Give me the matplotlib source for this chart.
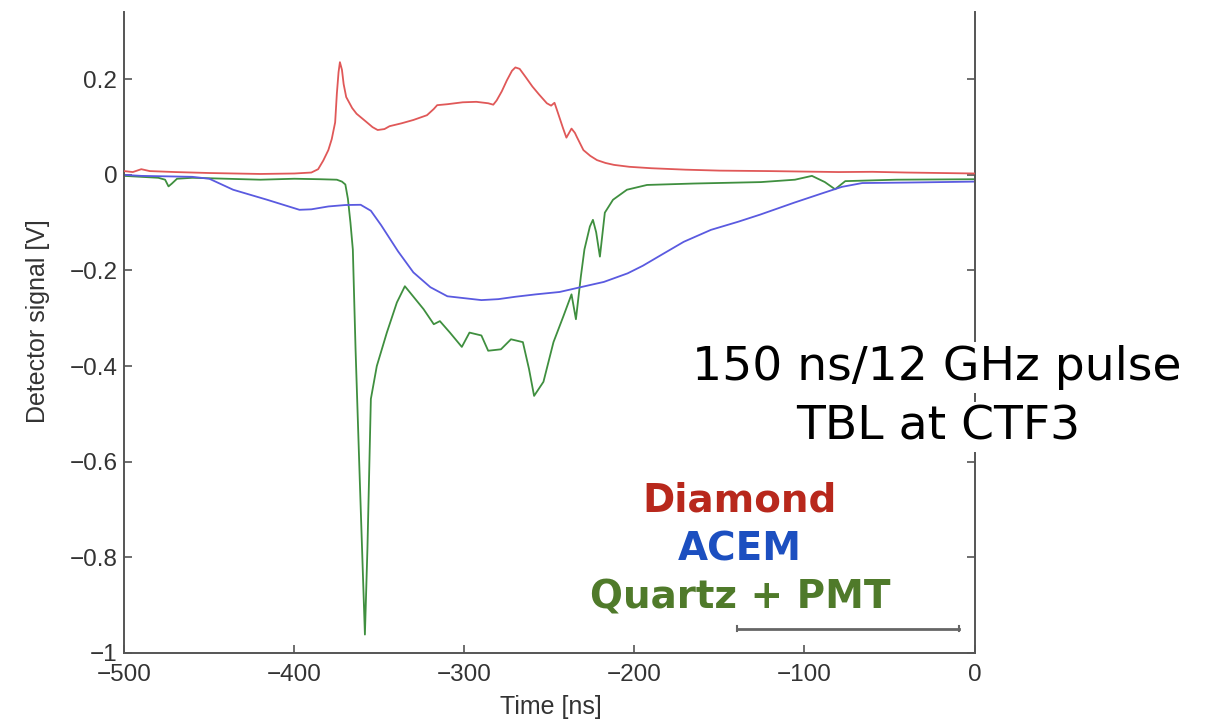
import matplotlib
matplotlib.use("Agg")
import matplotlib.pyplot as plt
from matplotlib.lines import Line2D
import numpy as np

# ---------------- data ----------------
t_diamond = [-500, -495, -490, -485, -470, -450, -420, -400, -390, -386, -383, -380, -378,
             -376, -375, -374, -373.2, -372, -371, -369.5, -366, -363.4, -358, -354, -351,
             -347, -344, -337, -330, -322, -318, -316, -310, -301, -293, -286, -283, -281,
             -278, -275, -272, -270, -267.5, -264, -260, -256, -251.5, -249, -247, -245,
             -242, -240, -237, -235, -233.8, -230, -226, -222, -217, -212, -203, -190,
             -170, -150, -120, -100, -80, -60, -40, -20, 0]
v_diamond = [0.008, 0.006, 0.012, 0.008, 0.006, 0.004, 0.002, 0.003, 0.005, 0.012, 0.030,
             0.052, 0.075, 0.11, 0.17, 0.215, 0.236, 0.22, 0.19, 0.163, 0.14, 0.128, 0.112,
             0.10, 0.094, 0.096, 0.102, 0.108, 0.115, 0.125, 0.138, 0.146, 0.148, 0.152,
             0.153, 0.150, 0.147, 0.156, 0.175, 0.198, 0.218, 0.225, 0.222, 0.205, 0.185,
             0.168, 0.150, 0.145, 0.151, 0.130, 0.098, 0.078, 0.097, 0.088, 0.079, 0.052,
             0.040, 0.031, 0.025, 0.021, 0.017, 0.014, 0.011, 0.009, 0.008, 0.007, 0.006,
             0.0065, 0.005, 0.004, 0.003]

t_acem = [-500, -490, -475, -460, -450, -436, -416, -397, -390, -380, -370, -361, -355,
          -349, -339, -330, -320, -310, -300, -290, -280, -270, -258, -244, -228, -218,
          -204, -195, -184, -171, -155, -139, -126, -106, -90, -78, -66, -40, -20, 0]
v_acem = [0.0, -0.002, -0.003, -0.004, -0.008, -0.031, -0.052, -0.073, -0.072, -0.066,
          -0.063, -0.0625, -0.075, -0.105, -0.160, -0.204, -0.235, -0.254, -0.258, -0.262,
          -0.260, -0.255, -0.250, -0.245, -0.232, -0.224, -0.206, -0.19, -0.167, -0.14,
          -0.115, -0.098, -0.083, -0.058, -0.039, -0.025, -0.017, -0.016, -0.015, -0.014]

t_quartz = [-500, -490, -480, -476, -474, -472, -469, -460, -440, -420, -400, -385, -375,
            -372, -370, -368.5, -367, -365.6, -364, -361.5, -358.5, -357, -355, -351.5,
            -345.6, -339.7, -335, -332, -324, -318, -314.4, -308.5, -301.5, -297, -290,
            -286, -278.5, -272.6, -265.6, -262, -259, -253.5, -247.6, -241.8, -237, -234.4,
            -231.5, -229.4, -226.2, -224.4, -222.5, -220.3, -217.4, -212.6, -204.4, -192.6,
            -165, -125.6, -105.6, -95.6, -88, -82, -76, -46, 0]
v_quartz = [-0.002, -0.004, -0.006, -0.01, -0.024, -0.018, -0.008, -0.006, -0.008, -0.01,
            -0.008, -0.009, -0.010, -0.014, -0.02, -0.05, -0.10, -0.156, -0.365, -0.64,
            -0.962, -0.78, -0.469, -0.40, -0.33, -0.267, -0.233, -0.246, -0.281, -0.3125,
            -0.306, -0.33, -0.36, -0.33, -0.336, -0.368, -0.365, -0.344, -0.35, -0.406,
            -0.4625, -0.433, -0.35, -0.296, -0.25, -0.302, -0.2125, -0.156, -0.108, -0.094,
            -0.12, -0.171, -0.079, -0.052, -0.031, -0.021, -0.018, -0.015, -0.01, -0.002,
            -0.015, -0.03, -0.013, -0.01, -0.009]

x_ticks = [-500, -400, -300, -200, -100, 0]
x_ticklabels = ["\u2212500", "\u2212400", "\u2212300", "\u2212200", "\u2212100", "0"]
y_ticks = [-1, -0.8, -0.6, -0.4, -0.2, 0, 0.2]
y_ticklabels = ["\u22121", "\u22120.8", "\u22120.6", "\u22120.4", "\u22120.2", "0", "0.2"]

legend_labels = ["Diamond", "ACEM", "Quartz + PMT"]
legend_colors = ["#b8281c", "#1c4fc0", "#4f7a2a"]
line_colors = ["#e05858", "#5a5ae0", "#3f8f3f"]

# ---------------- figure ----------------
W, H = 1209, 720
fig = plt.figure(figsize=(W / 100, H / 100), dpi=100)
fig.patch.set_facecolor("white")

def fx(px):
    return px / W

def fy(py):
    return 1 - py / H

ax = fig.add_axes([fx(124.3), fy(652.7), (974.5 - 124.3) / W, (652.7 - 12) / H])

ax.plot(t_diamond, v_diamond, color=line_colors[0], lw=1.3, zorder=3)
ax.plot(t_quartz, v_quartz, color=line_colors[2], lw=1.3, zorder=2)
ax.plot(t_acem, v_acem, color=line_colors[1], lw=1.3, zorder=2)

ax.set_xlim(-500, 0)
ax.set_ylim(-1, 0.341)

tick_font = dict(family="Liberation Sans", size=17.5, color="#333333")
label_font = dict(family="Liberation Sans", size=18, color="#333333")
ax.set_xticks(x_ticks)
ax.set_xticklabels(x_ticklabels, **tick_font)
ax.set_yticks(y_ticks)
ax.set_yticklabels(y_ticklabels, **tick_font)
ax.tick_params(axis="both", direction="in", length=6, width=1.2, color="#555555")
ax.tick_params(axis="x", pad=8, top=False)
ax.tick_params(axis="y", pad=5, right=True)

for side in ["left", "bottom", "right"]:
    ax.spines[side].set_color("#555555")
    ax.spines[side].set_linewidth(1.4)
ax.spines["top"].set_visible(False)

ax.set_xlabel("Time [ns]", **label_font)
ax.xaxis.label.set_va("center")
ax.xaxis.set_label_coords((551 - 124.3) / 850.2, (652.7 - 707) / 640.7)
ax.set_ylabel("Detector signal [V]", **label_font)
ax.yaxis.label.set_va("center")
ax.yaxis.set_label_coords((38 - 124.3) / 850.2, (652.7 - 321) / 640.7)

# scale-bar-like grey line near bottom right
fig.add_artist(Line2D([fx(737), fx(959)], [fy(629), fy(629)], color="#666666", lw=2.0))
fig.add_artist(Line2D([fx(737), fx(737)], [fy(626), fy(631)], color="#666666", lw=1.5))
fig.add_artist(Line2D([fx(959), fx(959)], [fy(626), fy(631)], color="#666666", lw=1.5))

# annotation text box (covers the right spine)
fig.text(fx(937), fy(380), "150 ns/12 GHz pulse", family="DejaVu Sans", size=34,
         ha="center", va="baseline", color="black",
         bbox=dict(facecolor="white", edgecolor="none", pad=2))
fig.text(fx(938), fy(439.5), "TBL at CTF3", family="DejaVu Sans", size=34,
         ha="center", va="baseline", color="black",
         bbox=dict(facecolor="white", edgecolor="none", pad=2))

# coloured legend-like labels
baselines = [512, 560.5, 609]
for lab, col, b in zip(legend_labels, legend_colors, baselines):
    fig.text(fx(740), fy(b), lab, family="DejaVu Sans", weight="bold", size=28,
             ha="center", va="baseline", color=col)

fig.savefig("out.png", dpi=100, facecolor="white")
